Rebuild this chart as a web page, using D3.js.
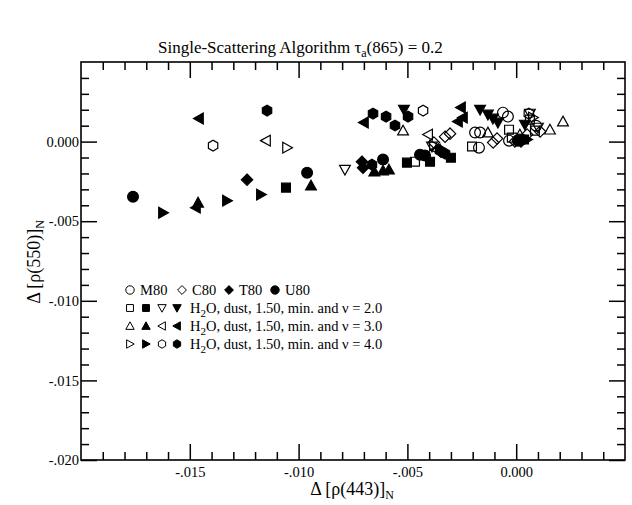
<!DOCTYPE html>
<html>
<head>
<meta charset="utf-8">
<script src="https://cdn.jsdelivr.net/npm/d3@7"></script>
<style>
  body { margin: 0; background: #fff; }
  text { font-family: "Liberation Serif", "Times New Roman", serif; fill: #000; }
</style>
</head>
<body>
<svg id="chart" width="632" height="505"></svg>
<script>
// ---- data: [x, y] = [delta rho(443)_N, delta rho(550)_N] ----
var m80 = [[-0.00061, 0.00182], [-0.00038, 0.00157], [-0.00189, 0.00057], [-0.00166, 0.00057],
           [-0.00171, -0.00038], [0.00017, 0.00013], [-0.00033, 0.00006], [0.00091, 0.0010]];
var c80 = [[-0.00327, 0.00031], [-0.00304, 0.0005], [-0.00106, -0.00006], [-0.00088, 0.00019],
           [0.0005, 0.00044], [0.0011, 0.00063], [-0.00006, 0.0], [-0.00378, -0.00006]];
var t80 = [[-0.01237, -0.00239], [-0.00709, -0.00126], [-0.00704, -0.00164], [-0.00346, -0.00063], [0.00022, 0.0]];
var u80 = [[-0.01761, -0.00346], [-0.00961, -0.00195], [-0.00612, -0.00113], [-0.00442, -0.00082],
           [-0.00419, -0.00088], [0.00008, 0.00006]];

// nu = 2.0
var n2a = [[-0.00465, -0.00126], [-0.00203, -0.00031], [-0.00033, 0.00075], [-0.0002, 0.00025], [0.00063, 0.00138], [0.00086, 0.00069]];
var n2b = [[-0.01058, -0.00289], [-0.00502, -0.00132], [-0.00396, -0.00126], [-0.003, -0.00101], [0.00036, 0.00013]];
var n2c = [[-0.00787, -0.00176], [-0.00387, -0.00031], [0.00063, 0.00176], [0.001, 0.00088]];
var n2d = [[-0.00516, 0.00201], [-0.00166, 0.00201], [-0.0013, 0.0017], [-0.00107, 0.00145], [-0.00084, 0.0012], [0.0004, 0.00107]];
// nu = 3.0
var n3a = [[-0.0052, 0.00069], [-0.0013, 0.00057], [0.00155, 0.00075], [0.00215, 0.00126], [0.00017, 0.00044]];
var n3b = [[-0.01462, -0.00384], [-0.00943, -0.00277], [-0.00652, -0.00189], [-0.00612, -0.00182], [-0.00585, -0.00176]];
var n3c = [[-0.0115, 0.00006], [-0.00405, 0.00044], [-0.00369, -0.0005]];
var n3d = [[-0.01458, 0.00145], [-0.01472, -0.00415], [-0.007, 0.0012], [-0.00268, 0.00126], [-0.00245, 0.00151], [-0.00254, 0.00214]];
// nu = 4.0
var n4a = [[-0.01053, -0.00038], [-0.00378, -0.00025], [0.00077, 0.00151]];
var n4b = [[-0.01623, -0.00447], [-0.01329, -0.00371], [-0.01173, -0.00333], [0.0005, 0.00013]];
var n4c = [[-0.01393, -0.00025], [-0.00428, 0.00195], [0.00058, 0.00176]];
var n4d = [[-0.01145, 0.00195], [-0.00658, 0.00176], [-0.00598, 0.00157], [-0.00557, 0.00101], [-0.00497, 0.00157],
           [-0.00663, -0.00145], [-0.00327, -0.00075], [-0.0035, -0.00057]];

var majorTicks = [-0.015, -0.010, -0.005, 0.000];
var yMajorTicks = [0.000, -0.005, -0.010, -0.015, -0.020];
var legendRows = ["H\u2082O, dust, 1.50, min. and \u03bd = 2.0", "H\u2082O, dust, 1.50, min. and \u03bd = 3.0", "H\u2082O, dust, 1.50, min. and \u03bd = 4.0"];
var modelNames = ["M80", "C80", "T80", "U80"];

var series = [
  { data: m80, shape: "circle", filled: false },
  { data: c80, shape: "diamond", filled: false },
  { data: t80, shape: "diamond", filled: true },
  { data: u80, shape: "circle", filled: true },
  { data: n2a, shape: "square", filled: false },
  { data: n2b, shape: "square", filled: true },
  { data: n2c, shape: "down", filled: false },
  { data: n2d, shape: "down", filled: true },
  { data: n3a, shape: "up", filled: false },
  { data: n3b, shape: "up", filled: true },
  { data: n3c, shape: "left", filled: false },
  { data: n3d, shape: "left", filled: true },
  { data: n4a, shape: "right", filled: false },
  { data: n4b, shape: "right", filled: true },
  { data: n4c, shape: "hex", filled: false },
  { data: n4d, shape: "hex", filled: true }
];

// ---- layout ----
var svg = d3.select("#chart");
var plotL = 81, plotR = 625, plotT = 62, plotB = 460;

var x = d3.scaleLinear().domain([-0.02, 0.005]).range([plotL, plotR]);
var y = d3.scaleLinear().domain([-0.02, 0.005]).range([plotB, plotT]);

var fmt = function(d) {
  if (Math.abs(d) < 1e-9) return "0.000";
  return (d < 0 ? "-" : "") + Math.abs(d).toFixed(3).replace(/^0/, "");
};

// minor ticks every 0.001
var minor = d3.range(-19, 5).map(function(i) { return i / 1000; })
  .filter(function(v) { return Math.abs(Math.round(v * 1000)) % 5 !== 0; });

function styleAxis(g) {
  g.select(".domain").remove();
  g.selectAll(".tick line").attr("stroke", "#000").attr("stroke-width", 1.5);
  g.selectAll(".tick text").attr("font-size", 14.5).attr("font-family", "Liberation Serif");
}

// bottom
svg.append("g").attr("transform", "translate(0," + plotB + ")")
  .call(d3.axisBottom(x).tickValues(majorTicks).tickSize(-16).tickPadding(7).tickFormat(fmt)).call(styleAxis);
svg.append("g").attr("transform", "translate(0," + plotB + ")")
  .call(d3.axisBottom(x).tickValues(minor).tickSize(-8).tickFormat("")).call(styleAxis);
// top
svg.append("g").attr("transform", "translate(0," + plotT + ")")
  .call(d3.axisTop(x).tickValues(majorTicks).tickSize(-16).tickFormat("")).call(styleAxis);
svg.append("g").attr("transform", "translate(0," + plotT + ")")
  .call(d3.axisTop(x).tickValues(minor).tickSize(-8).tickFormat("")).call(styleAxis);
// left
svg.append("g").attr("transform", "translate(" + plotL + ",0)")
  .call(d3.axisLeft(y).tickValues(yMajorTicks).tickSize(-16).tickPadding(2).tickFormat(fmt)).call(styleAxis);
svg.append("g").attr("transform", "translate(" + plotL + ",0)")
  .call(d3.axisLeft(y).tickValues(minor).tickSize(-8).tickFormat("")).call(styleAxis);
// right
svg.append("g").attr("transform", "translate(" + plotR + ",0)")
  .call(d3.axisRight(y).tickValues(yMajorTicks).tickSize(-16).tickFormat("")).call(styleAxis);
svg.append("g").attr("transform", "translate(" + plotR + ",0)")
  .call(d3.axisRight(y).tickValues(minor).tickSize(-8).tickFormat("")).call(styleAxis);

// frame
svg.append("rect")
  .attr("x", plotL).attr("y", plotT).attr("width", plotR - plotL).attr("height", plotB - plotT)
  .attr("fill", "none").attr("stroke", "#000").attr("stroke-width", 1.6);

// ---- symbols ----
function symbolPath(shape, s) {
  // s = half size
  var p;
  if (shape === "circle") {
    return "M" + s + ",0A" + s + "," + s + " 0 1,1 " + (-s) + ",0A" + s + "," + s + " 0 1,1 " + s + ",0Z";
  }
  if (shape === "square") { var h = s * 0.82; p = [[-h, -h], [h, -h], [h, h], [-h, h]]; }
  if (shape === "diamond") p = [[0, -s * 1.05], [s * 1.05, 0], [0, s * 1.05], [-s * 1.05, 0]];
  if (shape === "up") p = [[0, -s], [s, s * 0.8], [-s, s * 0.8]];
  if (shape === "down") p = [[0, s], [s, -s * 0.8], [-s, -s * 0.8]];
  if (shape === "left") p = [[-s, 0], [s * 0.8, -s], [s * 0.8, s]];
  if (shape === "right") p = [[s, 0], [-s * 0.8, -s], [-s * 0.8, s]];
  if (shape === "hex") p = d3.range(6).map(function(i) {
    var a = Math.PI / 3 * i + Math.PI / 6;
    return [s * Math.cos(a), s * Math.sin(a)];
  });
  return "M" + p.map(function(q) { return q[0].toFixed(2) + "," + q[1].toFixed(2); }).join("L") + "Z";
}

var marks = svg.append("g");
series.forEach(function(sr) {
  marks.selectAll(null)
    .data(sr.data)
    .enter().append("path")
    .attr("transform", function(d) { return "translate(" + x(d[0]) + "," + y(d[1]) + ")"; })
    .attr("d", symbolPath(sr.shape, 5.4))
    .attr("fill", sr.filled ? "#000" : "none")
    .attr("stroke", "#000")
    .attr("stroke-width", 1.2);
});

// ---- title & axis labels ----
var title = svg.append("text").attr("x", 158).attr("y", 53).attr("font-size", 17);
title.append("tspan").text("Single-Scattering Algorithm \u03c4");
title.append("tspan").attr("font-size", 12).attr("dy", 4).text("a");
title.append("tspan").attr("dy", -4).text("(865) = 0.2");

var xl = svg.append("text").attr("x", 352).attr("y", 495).attr("text-anchor", "middle").attr("font-size", 18);
xl.append("tspan").text("\u0394 [\u03c1(443)]");
xl.append("tspan").attr("font-size", 12).attr("dy", 4).text("N");

var yl = svg.append("text").attr("transform", "translate(40,262) rotate(-90)")
  .attr("text-anchor", "middle").attr("font-size", 18);
yl.append("tspan").text("\u0394 [\u03c1(550)]");
yl.append("tspan").attr("font-size", 12).attr("dy", 4).text("N");

// ---- legend ----
var lg = svg.append("g").attr("font-size", 14.5);
var row1X = [130, 182, 229, 275];
series.slice(0, 4).forEach(function(sr, i) {
  lg.append("path").attr("transform", "translate(" + row1X[i] + ",290)")
    .attr("d", symbolPath(sr.shape, 4.2))
    .attr("fill", sr.filled ? "#000" : "none").attr("stroke", "#000").attr("stroke-width", 1);
  lg.append("text").attr("x", row1X[i] + 10).attr("y", 295).text(modelNames[i]);
});
var symX = [130, 146, 162, 177];
legendRows.forEach(function(label, r) {
  var cy = 308 + r * 18;
  series.slice(4 + r * 4, 8 + r * 4).forEach(function(sr, i) {
    lg.append("path").attr("transform", "translate(" + symX[i] + "," + cy + ")")
      .attr("d", symbolPath(sr.shape, 4.2))
      .attr("fill", sr.filled ? "#000" : "none").attr("stroke", "#000").attr("stroke-width", 1);
  });
  var t = lg.append("text").attr("x", 190).attr("y", cy + 5);
  t.append("tspan").text("H");
  t.append("tspan").attr("font-size", 11).attr("dy", 4).text("2");
  t.append("tspan").attr("dy", -4).text(label.slice(2));
});
</script>
</body>
</html>
